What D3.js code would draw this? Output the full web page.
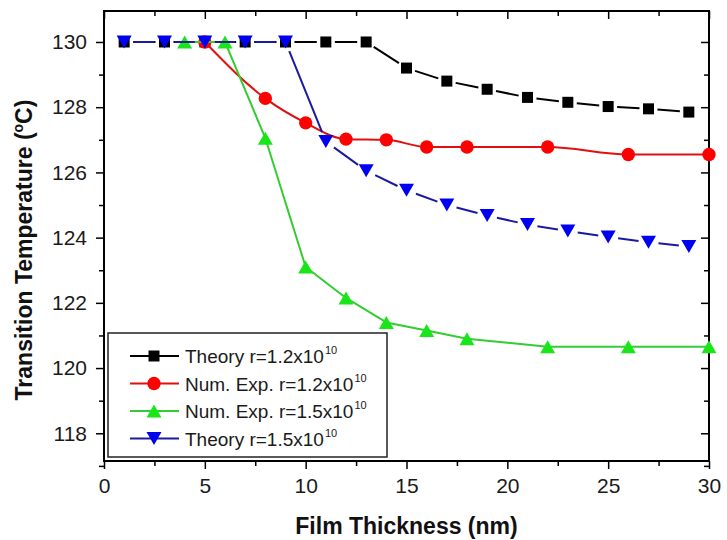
<!DOCTYPE html>
<html>
<head>
<meta charset="utf-8">
<script src="https://cdn.jsdelivr.net/npm/d3@7"></script>
<style>
  body { margin: 0; background: #fff; }
  text { font-family: 'Liberation Sans', Arial, sans-serif; }
</style>
</head>
<body>
<script>
// film thickness (nm) and transition temperature (C) per series
const xTheory12 = [1, 3, 5, 7, 9, 11, 13, 15, 17, 19, 21, 23, 25, 27, 29];
const yTheory12 = [130, 130, 130, 130, 130, 130, 130, 129.2, 128.8, 128.55, 128.3, 128.15, 128.02, 127.95, 127.85];

const xExp12 = [5, 8, 10, 12, 14, 16, 18, 22, 26, 30];
const yExp12 = [130, 128.27, 127.52, 127.02, 127.0, 126.78, 126.78, 126.78, 126.55, 126.55];

const xExp15 = [4, 6, 8, 10, 12, 14, 16, 18, 22, 26, 30];
const yExp15 = [130, 130, 127.05, 123.1, 122.15, 121.4, 121.15, 120.9, 120.65, 120.65, 120.65];

const xTheory15 = [1, 3, 5, 7, 9, 11, 13, 15, 17, 19, 21, 23, 25, 27, 29];
const yTheory15 = [130, 130, 130, 130, 130, 126.95, 126.05, 125.45, 125.0, 124.68, 124.4, 124.2, 124.02, 123.86, 123.73];

const xTicks = [0, 5, 10, 15, 20, 25, 30];
const xMinor = [2.5, 7.5, 12.5, 17.5, 22.5, 27.5];
const yTicks = [118, 120, 122, 124, 126, 128, 130];
const yMinor = [117, 119, 121, 123, 125, 127, 129];

const legendNames = ['Theory r=1.2x10', 'Num. Exp. r=1.2x10', 'Num. Exp. r=1.5x10', 'Theory r=1.5x10'];

const margin = { top: 11, left: 104 };
const width = 605, height = 450;

const svg = d3.select('body').append('svg')
    .attr('width', 727)
    .attr('height', 540);

const g = svg.append('g')
    .attr('transform', `translate(${margin.left},${margin.top})`);

const x = d3.scaleLinear().domain([0, 30]).range([0, width]);
const y = d3.scaleLinear().domain([117.15, 130.95]).range([height, 0]);

// axes: bottom/left ticks outward, top/right ticks inward
function styleAxis(sel) {
    sel.select('.domain').remove();
    sel.selectAll('line').attr('stroke', '#000').attr('stroke-width', 1.5);
    sel.selectAll('text').attr('font-size', 21).attr('fill', '#1a1a1a')
        .attr('font-family', "'Liberation Sans', Arial, sans-serif");
}

g.append('g').attr('transform', `translate(0,${height})`)
    .call(d3.axisBottom(x).tickValues(xTicks).tickSize(8).tickPadding(9).tickSizeOuter(0))
    .call(styleAxis);
g.append('g').attr('transform', `translate(0,${height})`)
    .call(d3.axisBottom(x).tickValues(xMinor).tickSize(5).tickFormat('').tickSizeOuter(0))
    .call(styleAxis);
g.append('g')
    .call(d3.axisTop(x).tickValues(xTicks).tickSize(-8).tickFormat('').tickSizeOuter(0))
    .call(styleAxis);
g.append('g')
    .call(d3.axisTop(x).tickValues(xMinor).tickSize(-5).tickFormat('').tickSizeOuter(0))
    .call(styleAxis);

g.append('g')
    .call(d3.axisLeft(y).tickValues(yTicks).tickSize(8).tickPadding(9).tickSizeOuter(0))
    .call(styleAxis);
g.append('g')
    .call(d3.axisLeft(y).tickValues(yMinor).tickSize(5).tickFormat('').tickSizeOuter(0))
    .call(styleAxis);
g.append('g').attr('transform', `translate(${width},0)`)
    .call(d3.axisRight(y).tickValues(yTicks).tickSize(-8).tickFormat('').tickSizeOuter(0))
    .call(styleAxis);
g.append('g').attr('transform', `translate(${width},0)`)
    .call(d3.axisRight(y).tickValues(yMinor).tickSize(-5).tickFormat('').tickSizeOuter(0))
    .call(styleAxis);

g.append('rect')
    .attr('width', width)
    .attr('height', height)
    .attr('fill', 'none')
    .attr('stroke', '#000')
    .attr('stroke-width', 2);

// markers
const symSquare = d3.symbol().type(d3.symbolSquare).size(121);
const symCircle = d3.symbol().type(d3.symbolCircle).size(140);
function triPath(w, h, down) {
    const s = down ? 1 : -1;
    return `M${-w / 2},${-s * h / 2}L${w / 2},${-s * h / 2}L0,${s * h / 2}Z`;
}

const series = [
    { xs: xTheory12, ys: yTheory12, line: '#000', fill: '#000', gap: 9, path: symSquare() },
    { xs: xExp12, ys: yExp12, line: '#e01010', fill: '#f00', gap: 0, path: symCircle(), smooth: true },
    { xs: xExp15, ys: yExp15, line: '#33cc33', fill: '#19e619', gap: 0, path: triPath(15, 13, false) },
    { xs: xTheory15, ys: yTheory15, line: '#1a1aa0', fill: '#0000f0', gap: 10, path: triPath(15, 13, true) }
];

// straight segments, cut back near each marker (gap to symbol)
function gappedSegments(pts, gap) {
    const segs = [];
    for (let i = 0; i < pts.length - 1; i++) {
        const [x1, y1] = pts[i], [x2, y2] = pts[i + 1];
        const len = Math.hypot(x2 - x1, y2 - y1);
        if (len <= 2 * gap) continue;
        const ux = (x2 - x1) / len, uy = (y2 - y1) / len;
        segs.push([x1 + ux * gap, y1 + uy * gap, x2 - ux * gap, y2 - uy * gap]);
    }
    return segs;
}

series.forEach(s => {
    const pts = s.xs.map((d, i) => [x(d), y(s.ys[i])]);
    const sg = g.append('g');
    if (s.smooth) {
        sg.append('path')
            .attr('d', d3.line().curve(d3.curveMonotoneX)(pts))
            .attr('fill', 'none')
            .attr('stroke', s.line)
            .attr('stroke-width', 2);
    } else {
        sg.selectAll('line')
            .data(gappedSegments(pts, s.gap))
            .join('line')
            .attr('x1', d => d[0]).attr('y1', d => d[1])
            .attr('x2', d => d[2]).attr('y2', d => d[3])
            .attr('stroke', s.line)
            .attr('stroke-width', 2);
    }
    sg.selectAll('path.m')
        .data(pts)
        .join('path')
        .attr('class', 'm')
        .attr('d', s.path)
        .attr('transform', d => `translate(${d[0]},${d[1]})`)
        .attr('fill', s.fill);
});

// legend
const legend = svg.append('g').attr('transform', 'translate(108,333)');
legend.append('rect')
    .attr('width', 279)
    .attr('height', 124)
    .attr('fill', '#fff')
    .attr('stroke', '#222')
    .attr('stroke-width', 1.5);

legendNames.forEach((name, i) => {
    const s = series[i];
    const ly = 23 + i * 27.5;
    const row = legend.append('g').attr('transform', `translate(0,${ly})`);
    row.append('line')
        .attr('x1', 22).attr('x2', 71)
        .attr('stroke', s.line)
        .attr('stroke-width', 2);
    row.append('path')
        .attr('d', s.path)
        .attr('transform', 'translate(46,0)')
        .attr('fill', s.fill);
    const t = row.append('text')
        .attr('x', 77)
        .attr('y', 7)
        .attr('font-size', 19)
        .attr('fill', '#1a1a1a')
        .text(name);
    t.append('tspan')
        .attr('font-size', 11)
        .attr('dy', -9)
        .attr('dx', 1)
        .text('10');
});

// axis titles
svg.append('text')
    .attr('x', margin.left + width / 2)
    .attr('y', 534)
    .attr('text-anchor', 'middle')
    .attr('font-size', 23)
    .attr('font-weight', 'bold')
    .attr('fill', '#111')
    .text('Film Thickness (nm)');

const yt = svg.append('text')
    .attr('transform', 'translate(32,250) rotate(-90)')
    .attr('text-anchor', 'middle')
    .attr('font-size', 23)
    .attr('font-weight', 'bold')
    .attr('fill', '#111');
yt.append('tspan').text('Transition Temperature (');
yt.append('tspan').attr('font-size', 14).attr('dy', -9).text('o');
yt.append('tspan').attr('dy', 9).text('C)');
</script>
</body>
</html>
